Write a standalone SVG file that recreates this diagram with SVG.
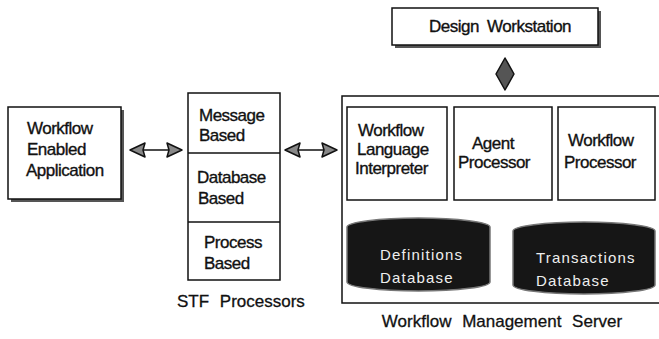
<svg xmlns="http://www.w3.org/2000/svg" width="659" height="339" viewBox="0 0 659 339">
<style>
.box{fill:#fff;stroke:#111;stroke-width:1.5}
.shadow{fill:#555}
.t{font-family:"Liberation Sans",Arial,sans-serif;font-size:17px;fill:#111;stroke:#111;stroke-width:0.35;letter-spacing:-0.5px}
.lbl{font-family:"Liberation Sans",Arial,sans-serif;font-size:17px;fill:#111;stroke:#111;stroke-width:0.3;word-spacing:6px}
.db{fill:#161616;stroke:#777;stroke-width:1.5}
.dbt{font-family:"Liberation Sans",Arial,sans-serif;font-size:15px;fill:#eee;stroke:none;letter-spacing:1.2px}
.shaft{stroke:#111;stroke-width:1.5}
.head{fill:#888;stroke:#111;stroke-width:1.5;stroke-linejoin:round}
.dia{fill:#555;stroke:#111;stroke-width:1.5;stroke-linejoin:round}
</style>
<rect width="659" height="339" fill="#fff"/>

<g id="workflow-enabled-application">
<rect class="shadow" x="11" y="110" width="113" height="92"/>
<rect class="box" x="8" y="107" width="113" height="92"/>
<text class="t" x="27" y="134">Workflow</text>
<text class="t" x="27" y="155">Enabled</text>
<text class="t" x="26" y="176">Application</text>
</g>

<g id="stf-processors">
<rect class="box" x="188" y="93" width="92" height="187"/>
<line class="shaft" x1="188" y1="153" x2="280" y2="153"/>
<line class="shaft" x1="188" y1="222" x2="280" y2="222"/>
<text class="t" x="199" y="121">Message</text>
<text class="t" x="199" y="141">Based</text>
<text class="t" x="197" y="183">Database</text>
<text class="t" x="198" y="204">Based</text>
<text class="t" x="204" y="248">Process</text>
<text class="t" x="204" y="269">Based</text>
<text class="lbl" x="177" y="307">STF Processors</text>
</g>

<g id="design-workstation">
<rect class="shadow" x="395" y="11" width="206" height="37"/>
<rect class="box" x="392" y="8" width="206" height="37"/>
<text class="t" x="500" y="32" text-anchor="middle" style="word-spacing:4px">Design Workstation</text>
</g>

<g id="workflow-management-server">
<rect class="box" x="342" y="96" width="330" height="207"/>
<text class="lbl" x="502" y="327" text-anchor="middle">Workflow Management Server</text>
</g>

<g id="workflow-language-interpreter">
<rect class="box" x="347" y="107" width="100" height="93"/>
<text class="t" x="358" y="136">Workflow</text>
<text class="t" x="357" y="155">Language</text>
<text class="t" x="355" y="174">Interpreter</text>
</g>

<g id="agent-processor">
<rect class="box" x="454" y="107" width="98" height="93"/>
<text class="t" x="472" y="149">Agent</text>
<text class="t" x="458" y="168">Processor</text>
</g>

<g id="workflow-processor">
<rect class="box" x="558" y="107" width="97" height="93"/>
<text class="t" x="568" y="146">Workflow</text>
<text class="t" x="564" y="168">Processor</text>
</g>

<g id="definitions-database">
<path class="db" d="M347,227 A71.5,9 0 0 1 490,227 L490,282 A71.5,9 0 0 1 347,282 Z"/>
<text class="dbt" x="380" y="260">Definitions</text>
<text class="dbt" x="380" y="283">Database</text>
</g>

<g id="transactions-database">
<path class="db" d="M513,231 A71,9 0 0 1 655,231 L655,285 A71,9 0 0 1 513,285 Z"/>
<text class="dbt" x="536" y="263">Transactions</text>
<text class="dbt" x="536" y="286">Database</text>
</g>

<g id="connectors">
<line class="shaft" x1="140" y1="150" x2="172" y2="150"/>
<polygon class="head" points="130,150 145,143 143,150 145,157"/>
<polygon class="head" points="182,150 167,143 169,150 167,157"/>
<line class="shaft" x1="295" y1="150" x2="327" y2="150"/>
<polygon class="head" points="285,150 300,143 298,150 300,157"/>
<polygon class="head" points="337,150 322,143 324,150 322,157"/>
<polygon class="dia" points="505,58 514,74 505,90 496,74"/>
</g>
</svg>
